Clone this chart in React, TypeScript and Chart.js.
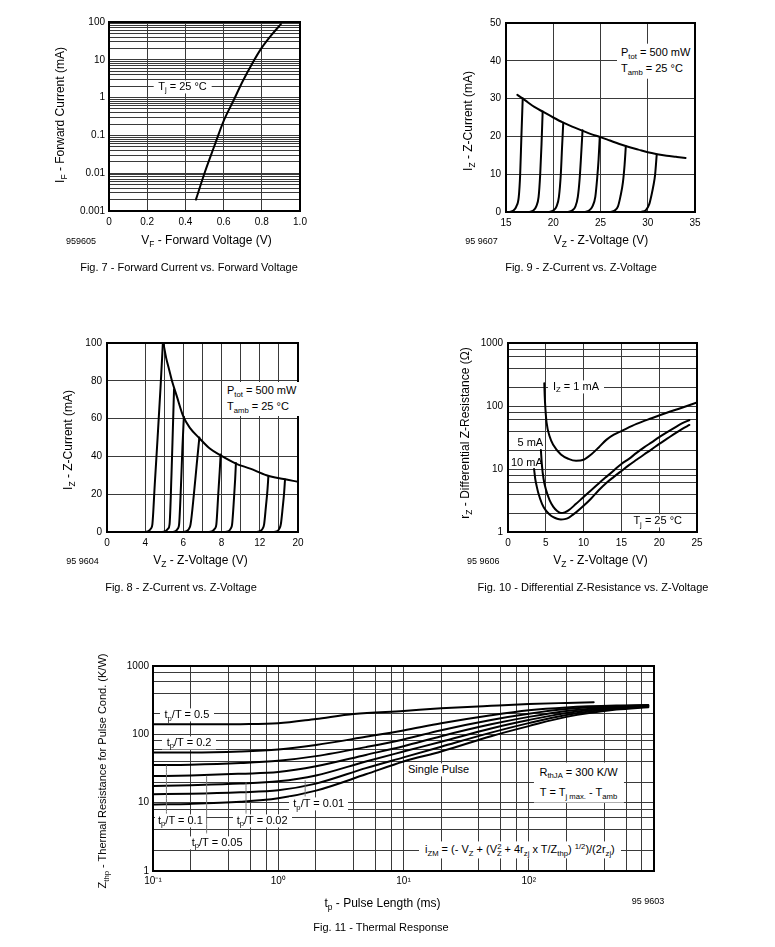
import React, { useEffect, useRef } from 'react';
import { Chart, registerables } from 'chart.js';

Chart.register(...registerables);

const FONT = '"Liberation Sans", Arial, Helvetica, sans-serif';
const GRID = '#3a3a3a';
const INK = '#000';

// ---------------- Fig. 7 : Forward current vs forward voltage ----------------
const fig7Voltage = [0.455, 0.5, 0.55, 0.6, 0.65, 0.7, 0.75, 0.8, 0.85, 0.9];
const fig7Current = [0.002, 0.01, 0.05, 0.24, 0.8, 2.7, 8, 21, 45, 88];
const fig7XTicks = [0, 0.2, 0.4, 0.6, 0.8, 1.0];
const fig7XLabels = ['0', '0.2', '0.4', '0.6', '0.8', '1.0'];
const fig7YDecades = [0.001, 0.01, 0.1, 1, 10, 100];
const fig7YLabels = ['0.001', '0.01', '0.1', '1', '10', '100'];
const fig7YMinor = [2, 3, 4, 5, 6, 7, 8, 9];

// ---------------- Fig. 9 : Z-current vs Z-voltage (15..35 V) ----------------
const fig9XTicks = [15, 20, 25, 30, 35];
const fig9XLabels = ['15', '20', '25', '30', '35'];
const fig9YTicks = [0, 10, 20, 30, 40, 50];
const fig9YLabels = ['0', '10', '20', '30', '40', '50'];
const fig9EnvelopeV = [16.2, 17, 18, 19, 20, 21, 22, 23, 24, 25, 26, 27, 28, 29, 30, 31, 32, 33, 34];
const fig9EnvelopeI = [31, 29.6, 27.8, 26.4, 25, 23.7, 22.6, 21.6, 20.6, 19.8, 18.9, 18.0, 17.2, 16.5, 15.8, 15.3, 14.9, 14.6, 14.3];
const fig9ZenerV = [
  [15.3, 15.8, 16.1, 16.35, 16.5, 16.63, 16.77],
  [17.4, 17.9, 18.2, 18.45, 18.62, 18.76, 18.88],
  [19.5, 20.0, 20.35, 20.6, 20.8, 20.93, 21.06],
  [21.5, 22.0, 22.35, 22.6, 22.8, 22.95, 23.1],
  [23.3, 23.8, 24.15, 24.45, 24.65, 24.8, 24.92],
  [26.0, 26.5, 26.85, 27.1, 27.38, 27.55, 27.68],
  [29.3, 29.8, 30.15, 30.4, 30.6, 30.77, 30.95],
];
const fig9ZenerI = [
  [0, 0.4, 1.5, 4, 10, 20, 30.1],
  [0, 0.4, 1.5, 4, 10, 18, 26.6],
  [0, 0.4, 1.5, 4, 10, 17, 23.6],
  [0, 0.4, 1.5, 4, 9, 15, 21.6],
  [0, 0.4, 1.5, 4, 9, 14, 19.8],
  [0, 0.4, 1.5, 4, 8, 12.5, 17.4],
  [0, 0.5, 2, 4.5, 7, 9.7, 15.2],
];

// ---------------- Fig. 8 : Z-current vs Z-voltage (0..20 V) ----------------
const fig8XGrid = [0, 2, 4, 6, 8, 10, 12, 14, 16, 18, 20];
const fig8XHiddenGrid = [2];
const fig8XTicks = [0, 4, 8, 12, 16, 20];
const fig8XLabels = ['0', '4', '6', '8', '12', '20'];
const fig8YTicks = [0, 20, 40, 60, 80, 100];
const fig8YLabels = ['0', '20', '40', '60', '80', '100'];
const fig8EnvelopeV = [5.9, 6.2, 6.5, 6.8, 7.3, 8.0, 8.7, 9.7, 10.8, 11.9, 13.5, 15, 16.7, 18.5, 20];
const fig8EnvelopeI = [100, 92, 86, 80, 72, 61, 55, 49.5, 44, 40.5, 36.2, 33.5, 30, 28, 26.6];
const fig8ZenerV = [
  [4.0, 4.35, 4.6, 4.75, 5.0, 5.3, 5.6, 5.85],
  [5.8, 6.15, 6.4, 6.55, 6.75, 6.9, 7.02],
  [6.9, 7.2, 7.42, 7.55, 7.75, 7.9, 8.05],
  [8.0, 8.35, 8.6, 8.75, 9.1, 9.4, 9.67],
  [10.7, 11.05, 11.3, 11.45, 11.65, 11.8, 11.9],
  [12.4, 12.75, 12.95, 13.1, 13.3, 13.42, 13.5],
  [15.7, 16.05, 16.3, 16.45, 16.65, 16.8, 16.9],
  [17.5, 17.85, 18.05, 18.2, 18.4, 18.55, 18.64],
];
const fig8ZenerI = [
  [0, 0.5, 1.8, 4, 25, 50, 76, 100],
  [0, 0.5, 1.8, 4, 30, 55, 75.5],
  [0, 0.5, 1.8, 4, 25, 45, 61],
  [0, 0.5, 1.8, 4, 20, 36, 50],
  [0, 0.5, 1.8, 4, 20, 32, 41],
  [0, 0.5, 1.8, 4, 18, 28, 36.5],
  [0, 0.5, 1.8, 4, 14, 22, 29.6],
  [0, 0.5, 1.8, 4, 13, 21, 27.8],
];

// ---------------- Fig. 10 : Differential Z-resistance ----------------
const fig10XTicks = [0, 5, 10, 15, 20, 25];
const fig10XLabels = ['0', '5', '10', '15', '20', '25'];
const fig10YDecades = [1, 10, 100, 1000];
const fig10YLabels = ['1', '10', '100', '1000'];
const fig10YMinor = [2, 4, 6, 8];
const fig10V1mA = [4.8, 4.85, 4.95, 5.1, 5.5, 6.0, 7.0, 8.0, 9.0, 10.0, 11.0, 12.0, 13.0, 14.0, 15.0, 17.0, 19.0, 21.0, 23.0, 25.0];
const fig10R1mA = [230, 150, 90, 55, 33, 24, 17, 14.5, 13.5, 14, 17, 22, 29, 35, 40, 52, 64, 78, 94, 114];
const fig10V5mA = [4.35, 4.5, 4.7, 5.0, 5.5, 6.0, 6.5, 7.0, 7.5, 8.0, 9, 10, 11, 12, 13, 14, 15, 16, 17, 18, 19, 20, 21, 22, 23, 24];
const fig10R5mA = [20, 11, 7, 4.8, 3.2, 2.5, 2.15, 2.0, 2.05, 2.2, 2.8, 3.6, 4.6, 5.9, 7.5, 9.5, 12, 14.5, 18, 22, 26.5, 32, 38, 45, 53, 60];
const fig10V10mA = [3.45, 3.6, 3.8, 4.0, 4.5, 5.0, 5.5, 6.0, 6.5, 7.0, 7.5, 8.0, 8.5, 9.0, 10, 11, 12, 13, 14, 15, 16, 17, 18, 19, 20, 21, 22, 23, 24];
const fig10R10mA = [10, 7, 5.3, 4.2, 2.8, 2.2, 1.9, 1.72, 1.62, 1.58, 1.6, 1.68, 1.85, 2.05, 2.6, 3.4, 4.6, 6.0, 7.5, 9.3, 11.5, 14, 17, 20.5, 25, 30, 36, 43, 50];

// ---------------- Fig. 11 : Thermal response ----------------
const fig11XDecades = [0.1, 1, 10, 100, 1000];
const fig11XLabels = ['10\u207B\u00B9', '10\u2070', '10\u00B9', '10\u00B2', ''];
const fig11YDecades = [1, 10, 100, 1000];
const fig11YLabels = ['1', '10', '100', '1000'];
const fig11Minor = [2, 4, 6, 8];
const fig11PulseHalf = [0.1, 0.2, 0.5, 1, 2, 4, 10, 20, 50, 100, 200, 330];
const fig11ZDuty05 = [140, 140, 141, 145, 168, 198, 220, 240, 262, 278, 288, 294];
const fig11Pulse = [0.1, 0.2, 0.5, 1, 2, 5, 10, 20, 50, 100, 200, 500, 900];
const fig11ZDuty02 = [54, 54, 56, 60, 70, 92, 114, 145, 190, 225, 248, 264, 268];
const fig11ZDuty01 = [35.5, 36, 38, 41, 48, 65, 84, 115, 162, 200, 234, 258, 266];
const fig11ZDuty005 = [24.5, 25, 26.5, 28, 34, 50, 67, 94, 140, 180, 220, 252, 263];
const fig11ZDuty002 = [17.5, 18, 19, 20.5, 25, 40, 56, 78, 122, 162, 206, 245, 258];
const fig11ZDuty001 = [13.3, 13.5, 14.2, 15.2, 19, 32, 46, 66, 106, 146, 192, 238, 254];
const fig11ZSingle = [9.4, 9.6, 10.3, 11.6, 15, 26, 40, 56, 94, 132, 180, 230, 250];
const fig11LeaderT = [0.128, 0.268, 0.553, 1.64];
const fig11LeaderTop = [35, 24.5, 19.5, 21];
const fig11LeaderBottom = [7, 3.6, 7, 12.5];

// ---------------- helpers ----------------
const M = { l: 56, t: 10, r: 16, b: 26 };

function logGrid(decades: number[], minor: number[]) {
  const out: number[] = [];
  decades.forEach((d, i) => {
    out.push(d);
    if (i < decades.length - 1) minor.forEach((m) => out.push(d * m));
  });
  return out;
}

function lookup(values: number[], labels: string[]) {
  return (v: number) => {
    const i = values.findIndex((d) => Math.abs(d - v) <= Math.max(Math.abs(d) * 1e-6, 1e-9));
    return i >= 0 ? labels[i] : '';
  };
}

function axis(type: string, min: number, max: number, grid: number[], labelValues: number[], labels: string[], pad: number, hidden: number[] = []) {
  const lab = lookup(labelValues, labels);
  return {
    type,
    min,
    max,
    afterBuildTicks: (s: any) => {
      s.ticks = grid.map((v) => ({ value: v }));
    },
    ticks: {
      autoSkip: false,
      maxRotation: 0,
      minRotation: 0,
      padding: pad,
      color: INK,
      font: { family: FONT, size: 10 },
      callback: (v: any) => lab(Number(v)),
    },
    grid: {
      drawTicks: false,
      lineWidth: 1,
      color: (ctx: any) => (ctx.tick && hidden.includes(ctx.tick.value) ? 'rgba(0,0,0,0)' : GRID),
    },
    border: { display: false },
  };
}

function curve(xs: number[], ys: number[], color = INK, width = 2) {
  return {
    data: xs.map((x, i) => ({ x, y: ys[i] })),
    borderColor: color,
    borderWidth: width,
    pointRadius: 0,
    fill: false,
    cubicInterpolationMode: 'monotone',
    borderCapStyle: 'round',
    borderJoinStyle: 'round',
  };
}

const framePlugin = {
  id: 'frame',
  afterDraw(chart: any) {
    const { ctx, chartArea: a } = chart;
    ctx.save();
    ctx.strokeStyle = '#000';
    ctx.lineWidth = 2;
    ctx.strokeRect(a.left, a.top, a.right - a.left, a.bottom - a.top);
    ctx.restore();
  },
};

function makeConfig(datasets: any[], x: any, y: any) {
  return {
    type: 'line',
    data: { datasets },
    options: {
      responsive: false,
      maintainAspectRatio: false,
      animation: false,
      events: [],
      layout: { padding: { left: 0, top: M.t, right: M.r, bottom: 0 } },
      plugins: { legend: { display: false }, tooltip: { enabled: false }, title: { display: false } },
      scales: {
        x: { ...x, position: 'bottom', afterFit: (s: any) => { s.height = M.b; } },
        y: { ...y, position: 'left', afterFit: (s: any) => { s.width = M.l; } },
      },
    },
    plugins: [framePlugin],
  };
}

type Rect = { l: number; t: number; r: number; b: number };

function Plot({ rect, build }: { rect: Rect; build: () => any }) {
  const ref = useRef<HTMLCanvasElement>(null);
  useEffect(() => {
    const chart = new Chart(ref.current as HTMLCanvasElement, build());
    return () => chart.destroy();
  }, []);
  const w = rect.r - rect.l + M.l + M.r;
  const h = rect.b - rect.t + M.t + M.b;
  return (
    <canvas
      ref={ref}
      width={w}
      height={h}
      style={{ position: 'absolute', left: rect.l - M.l, top: rect.t - M.t, width: w, height: h }}
    />
  );
}

const Sub = ({ children }: any) => (
  <span style={{ fontSize: '0.7em', position: 'relative', top: '0.35em' }}>{children}</span>
);
const Sup = ({ children }: any) => (
  <span style={{ fontSize: '0.7em', position: 'relative', top: '-0.5em' }}>{children}</span>
);

function Txt({ x, y, anchor = 'center', size = 11, bg = false, pad = '0 4px', lh, align = 'left', children }: any) {
  const tx = anchor === 'center' ? '-50%' : anchor === 'right' ? '-100%' : '0';
  return (
    <div
      style={{
        position: 'absolute',
        left: x,
        top: y,
        transform: `translate(${tx}, -50%)`,
        fontFamily: FONT,
        fontSize: size,
        lineHeight: lh ? `${lh}px` : '1.2',
        whiteSpace: 'nowrap',
        color: INK,
        background: bg ? '#fff' : 'transparent',
        padding: bg ? pad : 0,
        textAlign: align,
      }}
    >
      {children}
    </div>
  );
}

// Rotated axis title: integer-sized box rotated about an integer centre (keeps glyphs crisp)
function VTitle({ cx, cy, size = 12, children }: any) {
  const W = 300;
  const H = 16;
  return (
    <div
      style={{
        position: 'absolute',
        left: Math.round(cx) - W / 2,
        top: Math.round(cy) - H / 2,
        width: W,
        height: H,
        transform: 'rotate(-90deg)',
        transformOrigin: '50% 50%',
        fontFamily: FONT,
        fontSize: size,
        lineHeight: `${H}px`,
        textAlign: 'center',
        whiteSpace: 'nowrap',
        color: INK,
      }}
    >
      {children}
    </div>
  );
}

const R7: Rect = { l: 109, t: 22, r: 300, b: 211 };
const R9: Rect = { l: 506, t: 22, r: 695, b: 212 };
const R8: Rect = { l: 107, t: 342, r: 298, b: 532 };
const R10: Rect = { l: 508, t: 342, r: 697, b: 532 };
const R11: Rect = { l: 153, t: 666, r: 654, b: 871 };

const build7 = () =>
  makeConfig(
    [curve(fig7Voltage, fig7Current)],
    axis('linear', 0, 1, fig7XTicks, fig7XTicks, fig7XLabels, 5),
    axis('logarithmic', 0.001, 100, logGrid(fig7YDecades, fig7YMinor), fig7YDecades, fig7YLabels, 4)
  );

const build9 = () =>
  makeConfig(
    [curve(fig9EnvelopeV, fig9EnvelopeI), ...fig9ZenerV.map((v, i) => curve(v, fig9ZenerI[i]))],
    axis('linear', 15, 35, fig9XTicks, fig9XTicks, fig9XLabels, 5),
    axis('linear', 0, 50, fig9YTicks, fig9YTicks, fig9YLabels, 5)
  );

const build8 = () =>
  makeConfig(
    [curve(fig8EnvelopeV, fig8EnvelopeI), ...fig8ZenerV.map((v, i) => curve(v, fig8ZenerI[i]))],
    axis('linear', 0, 20, fig8XGrid, fig8XTicks, fig8XLabels, 5, fig8XHiddenGrid),
    axis('linear', 0, 100, fig8YTicks, fig8YTicks, fig8YLabels, 5)
  );

const build10 = () =>
  makeConfig(
    [curve(fig10V1mA, fig10R1mA), curve(fig10V5mA, fig10R5mA), curve(fig10V10mA, fig10R10mA)],
    axis('linear', 0, 25, fig10XTicks, fig10XTicks, fig10XLabels, 5),
    axis('logarithmic', 1, 1000, logGrid(fig10YDecades, fig10YMinor), fig10YDecades, fig10YLabels, 5)
  );

const build11 = () =>
  makeConfig(
    [
      ...fig11LeaderT.map((t, i) => curve([t, t], [fig11LeaderTop[i], fig11LeaderBottom[i]], '#777', 1)),
      curve(fig11PulseHalf, fig11ZDuty05),
      curve(fig11Pulse, fig11ZDuty02),
      curve(fig11Pulse, fig11ZDuty01),
      curve(fig11Pulse, fig11ZDuty005),
      curve(fig11Pulse, fig11ZDuty002),
      curve(fig11Pulse, fig11ZDuty001),
      curve(fig11Pulse, fig11ZSingle),
    ],
    axis('logarithmic', 0.1, 1000, logGrid(fig11XDecades, fig11Minor), fig11XDecades, fig11XLabels, 4),
    axis('logarithmic', 1, 1000, logGrid(fig11YDecades, fig11Minor), fig11YDecades, fig11YLabels, 4)
  );

export default function App() {
  return (
    <div style={{ position: 'absolute', left: 0, top: 0, width: 775, height: 947, background: '#fff', overflow: 'hidden' }}>
      <Plot rect={R7} build={build7} />
      <Plot rect={R9} build={build9} />
      <Plot rect={R8} build={build8} />
      <Plot rect={R10} build={build10} />
      <Plot rect={R11} build={build11} />

      {/* Fig. 7 */}
      <Txt x={182.5} y={86.5} bg pad="0 5px">T<Sub>j</Sub> = 25 °C</Txt>
      <VTitle cx={60} cy={115}>I<Sub>F</Sub> - Forward Current (mA)</VTitle>
      <Txt x={206.5} y={240} size={12}>V<Sub>F</Sub> - Forward Voltage (V)</Txt>
      <Txt x={81} y={241} size={9}>959605</Txt>
      <Txt x={189} y={268}>Fig. 7 - Forward Current vs. Forward Voltage</Txt>

      {/* Fig. 9 */}
      <Txt x={617} y={61.2} anchor="left" bg pad="1px 4px" lh={14.3}>
        <div>P<Sub>tot</Sub> = 500 mW</div>
        <div>T<Sub>amb</Sub> = 25 °C</div>
      </Txt>
      <VTitle cx={468} cy={121}>I<Sub>Z</Sub> - Z-Current (mA)</VTitle>
      <Txt x={601} y={240} size={12}>V<Sub>Z</Sub> - Z-Voltage (V)</Txt>
      <Txt x={481.5} y={241} size={9}>95 9607</Txt>
      <Txt x={581} y={268}>Fig. 9 - Z-Current vs. Z-Voltage</Txt>

      {/* Fig. 8 */}
      <Txt x={223} y={399.2} anchor="left" bg pad="1px 4px" lh={15}>
        <div>P<Sub>tot</Sub> = 500 mW</div>
        <div>T<Sub>amb</Sub> = 25 °C</div>
      </Txt>
      <VTitle cx={68} cy={440}>I<Sub>Z</Sub> - Z-Current (mA)</VTitle>
      <Txt x={200.5} y={560} size={12}>V<Sub>Z</Sub> - Z-Voltage (V)</Txt>
      <Txt x={82.5} y={561} size={9}>95 9604</Txt>
      <Txt x={181} y={588.3}>Fig. 8 - Z-Current vs. Z-Voltage</Txt>

      {/* Fig. 10 */}
      <Txt x={548} y={386.7} anchor="left" bg pad="0 5px">I<Sub>Z</Sub> = 1 mA</Txt>
      <Txt x={517.5} y={442.5} anchor="left">5 mA</Txt>
      <Txt x={511} y={463} anchor="left">10 mA</Txt>
      <Txt x={686} y={521} anchor="right" bg pad="0 4px">T<Sub>j</Sub> = 25 °C</Txt>
      <VTitle cx={465} cy={433}>r<Sub>Z</Sub> - Differential Z-Resistance (Ω)</VTitle>
      <Txt x={600.5} y={560} size={12}>V<Sub>Z</Sub> - Z-Voltage (V)</Txt>
      <Txt x={483.3} y={561} size={9}>95 9606</Txt>
      <Txt x={593} y={588}>Fig. 10 - Differential Z-Resistance vs. Z-Voltage</Txt>

      {/* Fig. 11 */}
      <Txt x={159.5} y={715} anchor="left" bg pad="0 5px">t<Sub>p</Sub>/T = 0.5</Txt>
      <Txt x={161.7} y={742.7} anchor="left" bg pad="0 5px">t<Sub>p</Sub>/T = 0.2</Txt>
      <Txt x={155} y={820.7} anchor="left" bg pad="0 3px">t<Sub>p</Sub>/T = 0.1</Txt>
      <Txt x={187.7} y={842.7} anchor="left" bg pad="0 4px">t<Sub>p</Sub>/T = 0.05</Txt>
      <Txt x={232.7} y={820.7} anchor="left" bg pad="0 4px">t<Sub>p</Sub>/T = 0.02</Txt>
      <Txt x={289.3} y={804} anchor="left" bg pad="0 4px">t<Sub>p</Sub>/T = 0.01</Txt>
      <Txt x={404} y={770} anchor="left" bg pad="0 4px">Single Pulse</Txt>
      <Txt x={578.5} y={782.5} bg pad="0 6px" lh={18.4} align="center">
        <div>R<Sub>thJA</Sub> = 300 K/W</div>
        <div>T = T<Sub>j max.</Sub> - T<Sub>amb</Sub></div>
      </Txt>
      <Txt x={419} y={850} anchor="left" bg pad="2px 6px">
        i<Sub>ZM</Sub> = (- V<Sub>Z</Sub> + (V<Sub>Z</Sub><span style={{ fontSize: '0.7em', position: 'relative', top: '-0.5em', marginLeft: '-0.6em' }}>2</span> + 4r<Sub>zj</Sub> x T/Z<Sub>thp</Sub>) <Sup>1/2</Sup>)/(2r<Sub>zj</Sub>)
      </Txt>
      <VTitle cx={102} cy={771} size={11}>Z<Sub>thp</Sub> - Thermal Resistance for Pulse Cond. (K/W)</VTitle>
      <Txt x={382.5} y={903} size={12}>t<Sub>p</Sub> - Pulse Length (ms)</Txt>
      <Txt x={648} y={901} size={9}>95 9603</Txt>
      <Txt x={381} y={928}>Fig. 11 - Thermal Response</Txt>
    </div>
  );
}
